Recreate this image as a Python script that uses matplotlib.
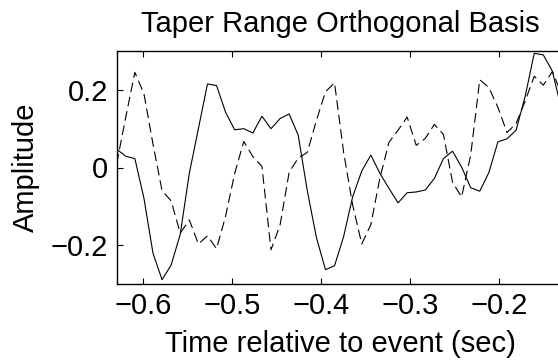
import matplotlib
matplotlib.use('Agg')
import matplotlib.pyplot as plt

# sample times (sec)
t = [-0.6300, -0.6198, -0.6096, -0.5994, -0.5892, -0.5790, -0.5688, -0.5586,
     -0.5484, -0.5382, -0.5280, -0.5178, -0.5076, -0.4974, -0.4872, -0.4770,
     -0.4668, -0.4566, -0.4464, -0.4362, -0.4260, -0.4158, -0.4056, -0.3954,
     -0.3852, -0.3750, -0.3648, -0.3546, -0.3444, -0.3342, -0.3240, -0.3138,
     -0.3036, -0.2934, -0.2832, -0.2730, -0.2628, -0.2526, -0.2424, -0.2322,
     -0.2220, -0.2118, -0.2016, -0.1914, -0.1812, -0.1710, -0.1608, -0.1506,
     -0.1404, -0.1302]

taper1 = [0.047, 0.029, 0.023, -0.079, -0.221, -0.289, -0.251, -0.172,
          -0.015, 0.100, 0.215, 0.211, 0.142, 0.097, 0.100, 0.089,
          0.132, 0.100, 0.126, 0.138, 0.083, -0.060, -0.180, -0.263,
          -0.253, -0.178, -0.075, -0.009, 0.032, -0.015, -0.054, -0.091,
          -0.065, -0.063, -0.058, -0.028, 0.023, 0.042, 0.001, -0.052,
          -0.061, -0.013, 0.066, 0.074, 0.096, 0.183, 0.294, 0.290,
          0.248, 0.150]

taper2 = [0.010, 0.130, 0.245, 0.190, 0.060, -0.060, -0.086, -0.169,
          -0.135, -0.197, -0.176, -0.209, -0.125, -0.015, 0.067, 0.028,
          0.003, -0.212, -0.148, -0.012, 0.024, 0.039, 0.121, 0.195,
          0.218, 0.039, -0.097, -0.197, -0.147, -0.027, 0.065, 0.096,
          0.130, 0.057, 0.075, 0.111, 0.085, -0.038, -0.076, 0.032,
          0.226, 0.206, 0.155, 0.090, 0.113, 0.171, 0.235, 0.212,
          0.247, 0.190]

xticks = [-0.6, -0.5, -0.4, -0.3, -0.2]
yticks = [-0.2, 0, 0.2]

plt.rcParams['font.family'] = ['Liberation Sans', 'DejaVu Sans']
plt.rcParams['font.size'] = 21
plt.rcParams['lines.scale_dashes'] = False

fig = plt.figure(figsize=(5.58, 3.63), dpi=100)
ax = fig.add_axes([116.7 / 558, 79 / 363, (564.3 - 116.7) / 558, 233 / 363])

ax.plot(t, taper1, color='black', linewidth=0.8)
ax.plot(t, taper2, color='black', linewidth=0.8, dashes=(7, 3.5))

ax.set_xlim(-0.63, -0.127)
ax.set_ylim(-0.3, 0.3)
ax.set_xticks(xticks)
ax.set_yticks(yticks)
ax.set_yticklabels(['\u22120.2', '0', '0.2'])
ax.tick_params(direction='in', length=4, width=0.8, top=True, right=True, pad=6)
for s in ax.spines.values():
    s.set_linewidth(1.0)

ax.set_title('Taper Range Orthogonal Basis', fontsize=21, pad=14)
ax.set_xlabel('Time relative to event (sec)', labelpad=7)
ax.set_ylabel('Amplitude', labelpad=8)

fig.savefig('out.png', dpi=100)
